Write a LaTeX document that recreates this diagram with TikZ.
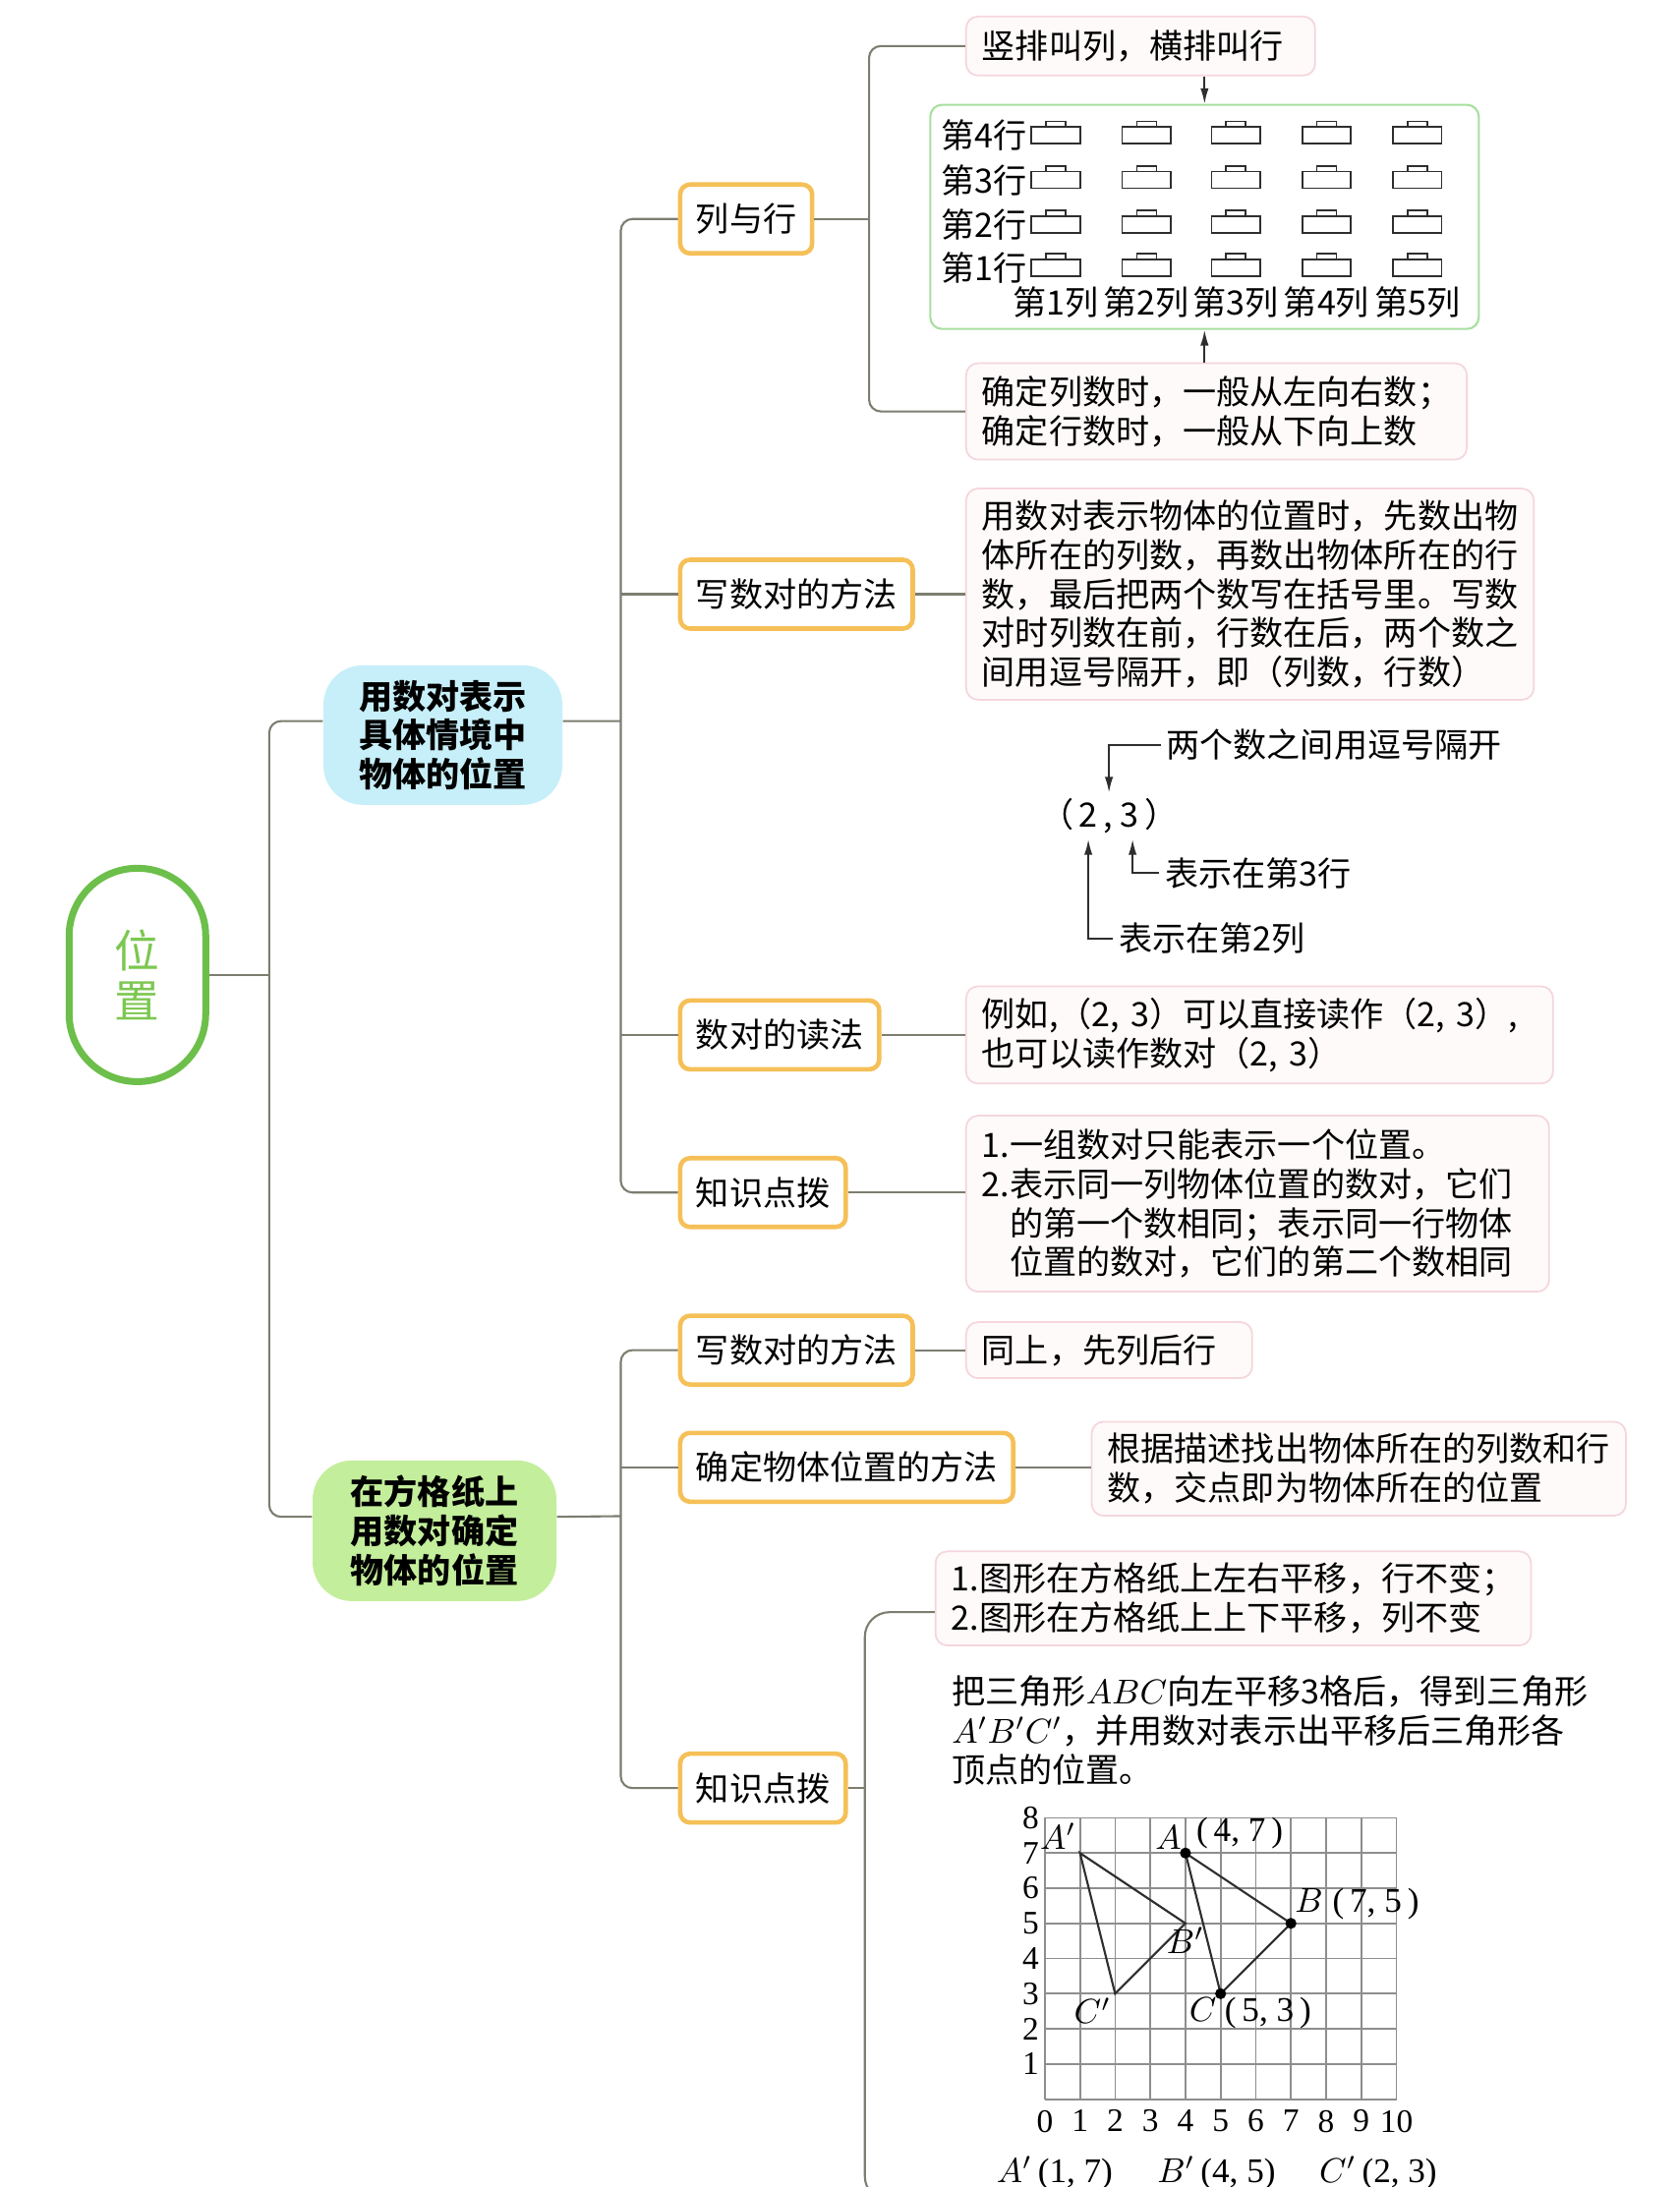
\documentclass[tikz,border=0pt]{standalone}
\usepackage{fontspec}
\usetikzlibrary{arrows.meta}
\newfontfamily\cjk{Noto Sans CJK SC}
\newfontfamily\tms{Liberation Serif}
\definecolor{linegray}{HTML}{7D7D70}
\definecolor{inkgray}{HTML}{2E2E2E}
\definecolor{gridgray}{HTML}{8E8E8E}
\definecolor{rootgreen}{HTML}{6CBF4A}
\definecolor{roottext}{HTML}{7CC750}
\definecolor{topicblue}{HTML}{C7EFF9}
\definecolor{topicgreen}{HTML}{C3EE9B}
\definecolor{boxorange}{HTML}{F5C057}
\definecolor{leafpink}{HTML}{F5D6DC}
\definecolor{leaffill}{HTML}{FFFAFA}
\definecolor{seatgreen}{HTML}{A8DFA0}

\begin{document}
\begin{tikzpicture}[x=0.014194cm,y=-0.014194cm,
    conn/.style={draw=linegray,line width=0.6pt},
    arr/.style={draw=inkgray,line width=0.5pt,-{Latex[length=4.5pt,width=2.4pt]}},
    topic/.style={rounded corners=0.4cm,align=center,inner sep=0pt,font=\cjk\bfseries\fontsize{9.7}{11.3}\selectfont},
    sub/.style={draw=boxorange,line width=1.3pt,fill=white,rounded corners=0.1cm,anchor=west,minimum height=0.7cm,inner xsep=0.16cm,font=\cjk\fontsize{9.7}{11.3}\selectfont},
    leaf/.style={draw=leafpink,fill=leaffill,line width=0.5pt,rounded corners=0.12cm,anchor=west,align=left,inner xsep=0.16cm,font=\cjk\fontsize{9.7}{11.3}\selectfont},
    note/.style={inner sep=1.5pt,font=\cjk\fontsize{9.7}{11.3}\selectfont},
    axis/.style={inner sep=1.5pt,font=\tms\fontsize{9.5}{11}\selectfont},
    ptlbl/.style={inner sep=1pt,font=\tms\fontsize{10}{12}\selectfont}]
    % page frame, y runs downwards
    \useasboundingbox (0,0) rectangle (1204,1568);
    \fill[white] (0,0) rectangle (1204,1568);

    % root and the two topics
    \node[draw=rootgreen,line width=2pt,rounded corners=0.69cm,minimum width=1.39cm,minimum height=2.17cm,
      align=center,inner sep=0pt,text=roottext,font=\cjk\fontsize{13}{14.5}\selectfont] (root) at (98.5,699) {位\\置};
    \node[topic,fill=topicblue,minimum width=2.43cm,minimum height=1.42cm] (lA) at (317.5,527) {用数对表示\\具体情境中\\物体的位置};
    \node[topic,fill=topicgreen,minimum width=2.48cm,minimum height=1.43cm] (lB) at (311.5,1097.5) {在方格纸上\\用数对确定\\物体的位置};

    % sub-topics
    \node[sub] (b1) at (486,157) {列与行};
    \node[sub] (b2) at (486,426) {写数对的方法};
    \node[sub] (b3) at (486,742) {数对的读法};
    \node[sub] (b4) at (486,855) {知识点拨};
    \node[sub] (c1) at (486,968) {写数对的方法};
    \node[sub] (c2) at (486,1052) {确定物体位置的方法};
    \node[sub] (c3) at (486,1282) {知识点拨};

    % root to topics
    \coordinate (j1) at (193,699);
    \draw[conn] (root.east) -- (j1);
    \draw[conn,rounded corners=0.12cm] ([yshift=0.142cm]lA.west) -| (j1) |- ([yshift=0.142cm]lB.west);

    % topic A to its sub-topics
    \coordinate (j2) at (445,517);
    \draw[conn] ([yshift=0.142cm]lA.east) -- (j2);
    \draw[conn,rounded corners=0.12cm] (b1.west) -| (j2) |- (b4.west);
    \foreach \n in {b2,b3} \draw[conn] (\n.west) -- (\n.west -| j2);

    % topic B to its sub-topics
    \coordinate (j3) at (445,1087);
    \draw[conn] ([yshift=0.142cm]lB.east) -- (j3);
    \draw[conn,rounded corners=0.12cm] (c1.west) -| (j3) |- (c3.west);
    \draw[conn] (c2.west) -- (c2.west -| j3);

    % columns and rows
    \node[leaf,minimum height=0.6cm,text width=3.23cm] (d1a) at (692,33) {竖排叫列，横排叫行};
    \node[draw=seatgreen,line width=0.6pt,rounded corners=0.12cm,minimum width=5.58cm,minimum height=2.28cm] (seats) at (863.5,155.5) {};
    \node[leaf,minimum height=0.98cm] (d1c) at (692,295) {确定列数时，一般从左向右数；\\确定行数时，一般从下向上数};
    \coordinate (k1) at (623,157);
    \draw[conn] (b1.east) -- (k1);
    \draw[conn,rounded corners=0.12cm] (d1a.west) -| (k1) |- (d1c.west);
    \draw[arr] (d1a.south -| seats.north) -- (seats.north);
    \draw[arr] (d1c.north -| seats.south) -- (seats.south);
    \foreach \row/\yy in {1/192,2/161,3/129,4/97} {
      \node[note,anchor=east] (row\row) at (740,\yy) {第\row 行};
      \foreach \xx in {757,822,886,951,1016} {
        \draw[inkgray,line width=0.5pt] (\xx-17.5,\yy-6) rectangle (\xx+17.5,\yy+6);
        \draw[inkgray,line width=0.5pt] (\xx-7,\yy-10) rectangle (\xx+7,\yy-6);
      }
    }
    \foreach \col/\xx in {1/757,2/822,3/886,4/951,5/1016}
      \node[note] (col\col) at (\xx,217) {第\col 列};

    % writing a pair
    \node[leaf] (d2) at (692,426) {用数对表示物体的位置时，先数出物\\体所在的列数，再数出物体所在的行\\数，最后把两个数写在括号里。写数\\对时列数在前，行数在后，两个数之\\间用逗号隔开，即（列数，行数）};
    \draw[conn] (b2.east) -- (d2.west);
    \node[note] (pair) at (795,585) {（\,2\,, 3\,）};
    \node[note,anchor=west] (tip1) at (832,534) {两个数之间用逗号隔开};
    \node[note,anchor=west] (tip2) at (831,626) {表示在第3行};
    \node[note,anchor=west] (tip3) at (798,673) {表示在第2列};
    \draw[arr] (tip1.west) -| (pair.north);
    \draw[arr] (tip2.west) -| ([xshift=0.24cm]pair.south);
    \draw[arr] (tip3.west) -| ([xshift=-0.21cm]pair.south);

    % reading a pair
    \node[leaf,minimum height=0.98cm,text width=5.65cm] (d3) at (692,742) {例如,（2, 3）可以直接读作（2, 3）,\\也可以读作数对（2, 3）};
    \draw[conn] (b3.east) -- (d3.west);

    % hints
    \node[leaf,minimum height=1.79cm,text width=5.61cm] (d4) at (692,863) {1.一组数对只能表示一个位置。\\2.表示同一列物体位置的数对，它们\\\phantom{2.}的第一个数相同；表示同一行物体\\\phantom{2.}位置的数对，它们的第二个数相同};
    \draw[conn] (b4.east) -- (b4.east -| d4.west);

    % square paper
    \node[leaf,minimum height=0.57cm,text width=2.59cm] (e1) at (692,968) {同上，先列后行};
    \draw[conn] (c1.east) -- (e1.west);
    \node[leaf,minimum height=0.95cm] (e2) at (782,1053) {根据描述找出物体所在的列数和行\\数，交点即为物体所在的位置};
    \draw[conn] (c2.east) -- (c2.east -| e2.west);
    \node[leaf,minimum height=0.95cm] (e3) at (670,1146) {1.图形在方格纸上左右平移，行不变；\\2.图形在方格纸上上下平移，列不变};
    \coordinate (k3) at (620,1282);
    \coordinate (tail) at (700,1578);
    \draw[conn] (c3.east) -- (k3);
    \draw[conn,rounded corners=0.25cm] ([yshift=-0.14cm]e3.west) -| (k3) |- (tail);
    \node[note,anchor=north west,align=left,inner sep=0pt] (task) at (682,1201) {把三角形$ABC$向左平移3格后，得到三角形\\$A'B'C'$，并用数对表示出平移后三角形各\\顶点的位置。};

    % grid with the two triangles
    \begin{scope}[shift={(749,1505)},x=0.3577cm,y=0.3577cm]
      \draw[gridgray,line width=0.5pt,step=1] (0,0) grid (10,8);
      \foreach \i in {0,...,10} \node[axis,anchor=north,yshift=-1.5pt] (xt\i) at (\i,0) {\i};
      \foreach \j in {1,...,8} \node[axis,anchor=east] (yt\j) at (0,\j) {\j};
      \coordinate (A) at (4,7); \coordinate (B) at (7,5); \coordinate (C) at (5,3);
      \coordinate (A1) at (1,7); \coordinate (B1) at (4,5); \coordinate (C1) at (2,3);
      \draw[inkgray,line width=0.6pt] (A) -- (B) -- (C) -- cycle;
      \draw[inkgray,line width=0.6pt] (A1) -- (B1) -- (C1) -- cycle;
      \foreach \p in {A,B,C} \fill[black] (\p) circle (1.6pt);
      \node[ptlbl,anchor=south east] (labA1) at (A1) {$A'$};
      \node[ptlbl,anchor=south east] (labA) at (A) {$A$};
      \node[ptlbl,anchor=south west,xshift=2pt] (crdA) at (A) {(\,4, 7\,)};
      \node[ptlbl,anchor=south west] (labB) at (B) {$B$\;(\,7, 5\,)};
      \node[ptlbl,anchor=north] (labB1) at (B1) {$B'$};
      \node[ptlbl,anchor=north east] (labC1) at (C1) {$C'$};
      \node[ptlbl,anchor=north east] (labC) at (C) {$C$};
      \node[ptlbl,anchor=north west] (crdC) at (C) {(\,5, 3\,)};
      \node[ptlbl] (q1) at (0.28,-2.1) {$A'$\,(1, 7)};
      \node[ptlbl] (q2) at (4.88,-2.1) {$B'$\,(4, 5)};
      \node[ptlbl] (q3) at (9.48,-2.1) {$C'$\,(2, 3)};
    \end{scope}
  \end{tikzpicture}
\end{document}
